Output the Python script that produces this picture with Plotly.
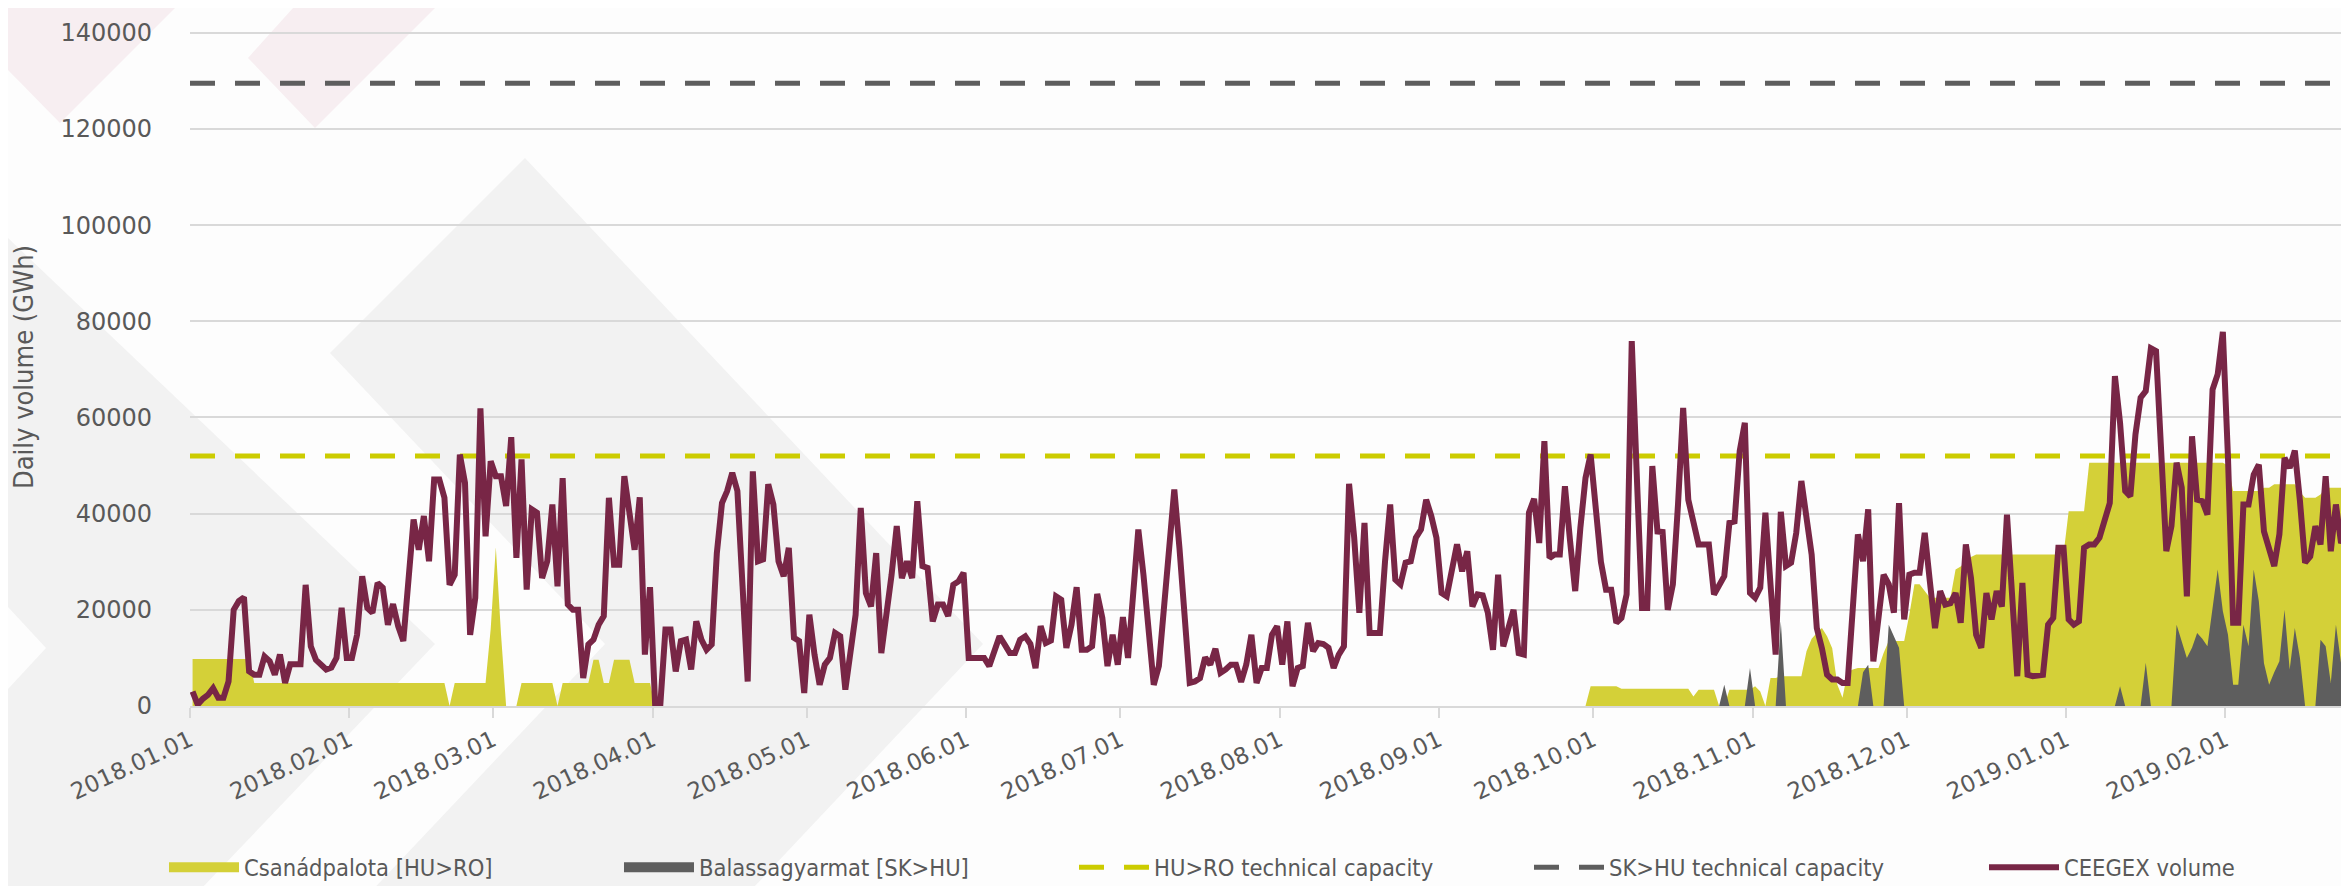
import pandas as pd
import plotly.graph_objects as go

# ---------------- data (daily values, GWh) ----------------
ceegex_2018_01 = [3000, 300, 1500, 2300, 3700, 1700, 1700, 5100, 20000, 21800, 22600, 7200, 6500, 6500, 10300, 9300,
                  6500, 10700, 4800, 8700, 8700, 8700, 25200, 12400, 9600, 8600, 7600, 8000, 10000, 20400, 10000]
ceegex_2018_02 = [10000, 14800, 27000, 20400, 19400, 25600, 24600, 16900, 21200, 16600, 13500, 28000, 38800, 32500,
                  39500, 30100, 47100, 47100, 43300, 25200, 27300, 52300, 46400, 14800, 22500, 61900, 35300, 50900]
ceegex_2018_03 = [47800, 47800, 41600, 55900, 30800, 51300, 24200, 40900, 40200, 26600, 30100, 41900, 24900, 47400,
                  21100, 20000, 20000, 5800, 12800, 13800, 16900, 18700, 43300, 29400, 29400, 47800, 39800, 32500,
                  43400, 10700, 24700]
ceegex_2018_04 = [200, 200, 15900, 15900, 7200, 13500, 13800, 7600, 17600, 13800, 11700, 12800, 31800, 42200, 44700,
                  48500, 44700, 25000, 5100, 48800, 30100, 30500, 46100, 41900, 30100, 27000, 32900, 14200, 13500, 2700]
ceegex_2018_05 = [19000, 10700, 4400, 8600, 10000, 15200, 14500, 3400, 10700, 19000, 41200, 23500, 20700, 31800, 11000,
                  18300, 27300, 37400, 26600, 30100, 26600, 42600, 29100, 28700, 17600, 21100, 21100, 18700, 25200,
                  25900, 27700]
ceegex_2018_06 = [10000, 10000, 10000, 10000, 8300, 11500, 14500, 12800, 11000, 11000, 13800, 14500, 12900, 7900, 16600,
                  13100, 13600, 22800, 22100, 12100, 16900, 24700, 11700, 11700, 12400, 23300, 18300, 8300, 14800, 8600]
ceegex_2018_07 = [18500, 10000, 23000, 36700, 27300, 16000, 4400, 8300, 21100, 33000, 45000, 32900, 20000, 4800, 5100,
                  5800, 10100, 8600, 11900, 6900, 7600, 8600, 8600, 5000, 8600, 14800, 4800, 7900, 7900, 14800, 16600]
ceegex_2018_08 = [8600, 17600, 4100, 7900, 8300, 17300, 11400, 13100, 12900, 12100, 7900, 10700, 12400, 46200, 35000,
                  19400, 38100, 15200, 15200, 15200, 30100, 41900, 26300, 25300, 29800, 30100, 35000, 36700, 42900,
                  39500, 35000]
ceegex_2018_09 = [23500, 22800, 28700, 33600, 28000, 32200, 20700, 23200, 23000, 19400, 11700, 27300, 12400, 16200,
                  20000, 11000, 10700, 40200, 43100, 33900, 55100, 30800, 31500, 31500, 45700, 34300, 23900, 37000,
                  47400, 52300]
ceegex_2018_10 = [40500, 30000, 24200, 24200, 17300, 18300, 23200, 75900, 47400, 20400, 20400, 49900, 36300, 36200,
                  20000, 25300, 41900, 62000, 42900, 38400, 33600, 33600, 33600, 23200, 25300, 27000, 38100, 38400,
                  53000, 58900, 23500]
ceegex_2018_11 = [22500, 24600, 40200, 25200, 10700, 40400, 29100, 29800, 36000, 46800, 40000, 31500, 16200, 12000,
                  6500, 5500, 5500, 4800, 4800, 20000, 35700, 30100, 40900, 9300, 18000, 27300, 25300, 19400, 42200,
                  18000]
ceegex_2018_12 = [27300, 27700, 27700, 36000, 25900, 16200, 23900, 21100, 21400, 23500, 17300, 33600, 26600, 14800,
                  12100, 23500, 18000, 23900, 20700, 39800, 23000, 6200, 25600, 6500, 6200, 6500, 6500, 16900, 18300,
                  32900, 32900]
ceegex_2019_01 = [18000, 16900, 17600, 32900, 33600, 33600, 35000, 38400, 42200, 68600, 58900, 44700, 43600, 56500,
                  64100, 65500, 74400, 73800, 54400, 32200, 37400, 50600, 45400, 22800, 56100, 42900, 42600, 39800,
                  65800, 69000, 77800]
ceegex_2019_02 = [51600, 17300, 17300, 41900, 41900, 48100, 50200, 36300, 32900, 29100, 35700, 51600, 49500, 53100,
                  42600, 29800, 31100, 37400, 33600, 47800, 32200, 41900, 33900, 36000, 45000, 52000]

csanad_2018_01 = [9800, 9800, 9800, 9800, 9800, 9800, 9800, 9800, 9800, 9800, 9800, 9800, 4800, 4800, 4800, 4800,
                  4800, 4800, 4800, 4800, 4800, 4800, 4800, 4800, 4800, 4800, 4800, 4800, 4800, 4800, 4800]
csanad_2018_02 = [4800, 4800, 4800, 4800, 4800, 4800, 4800, 4800, 4800, 4800, 4800, 4800, 4800, 4800, 4800, 4800,
                  4800, 4800, 4800, 0, 4800, 4800, 4800, 4800, 4800, 4800, 4800, 16000]
csanad_2018_03 = [33000, 15000, 0, 0, 0, 4800, 4800, 4800, 4800, 4800, 4800, 4800, 0, 4800, 4800, 4800, 4800, 4800,
                  4800, 9600, 9600, 4800, 4800, 9600, 9600, 9600, 9600, 4800, 4800, 4800, 4800]
csanad_2018_04 = [0, 0, 0, 0, 0, 0, 0, 0, 0, 0, 0, 0, 0, 0, 0, 0, 0, 0, 0, 0, 0, 0, 0, 0, 0, 0, 0, 0, 0, 0]
csanad_2018_05 = [0, 0, 0, 0, 0, 0, 0, 0, 0, 0, 0, 0, 0, 0, 0, 0, 0, 0, 0, 0, 0, 0, 0, 0, 0, 0, 0, 0, 0, 0, 0]
csanad_2018_06 = [0, 0, 0, 0, 0, 0, 0, 0, 0, 0, 0, 0, 0, 0, 0, 0, 0, 0, 0, 0, 0, 0, 0, 0, 0, 0, 0, 0, 0, 0]
csanad_2018_07 = [0, 0, 0, 0, 0, 0, 0, 0, 0, 0, 0, 0, 0, 0, 0, 0, 0, 0, 0, 0, 0, 0, 0, 0, 0, 0, 0, 0, 0, 0, 0]
csanad_2018_08 = [0, 0, 0, 0, 0, 0, 0, 0, 0, 0, 0, 0, 0, 0, 0, 0, 0, 0, 0, 0, 0, 0, 0, 0, 0, 0, 0, 0, 0, 0, 0]
csanad_2018_09 = [0, 0, 0, 0, 0, 0, 0, 0, 0, 0, 0, 0, 0, 0, 0, 0, 0, 0, 0, 0, 0, 0, 0, 0, 0, 0, 0, 0, 0, 4100]
csanad_2018_10 = [4100, 4100, 4100, 4100, 4100, 3600, 3600, 3600, 3600, 3600, 3600, 3600, 3600, 3600, 3600, 3600,
                  3600, 3600, 3600, 2000, 3400, 3400, 3400, 3400, 0, 0, 3400, 3400, 3400, 3400, 3400]
csanad_2018_11 = [4100, 3000, 0, 5800, 5800, 6200, 6200, 6200, 6200, 6200, 11400, 14000, 15200, 16200, 14500, 12000,
                  4400, 1700, 7000, 7600, 7900, 7900, 7900, 7900, 7900, 11000, 13500, 13500, 13500, 13500]
csanad_2018_12 = [19000, 25300, 25300, 24000, 22500, 22500, 22500, 22500, 22500, 28400, 29000, 30000, 31000, 31500,
                  31500, 31500, 31500, 31500, 31500, 31500, 31500, 31500, 31500, 31500, 31500, 31500, 31500, 31500,
                  31500, 31500, 31500]
csanad_2019_01 = [40500, 40500, 40500, 40500, 50600, 50600, 50600, 50600, 50600, 50600, 50600, 50600, 50600, 50600,
                  50600, 50600, 50600, 50600, 50600, 50600, 50600, 50600, 50600, 50600, 50600, 50600, 50600, 50600,
                  50600, 50600, 50600]
csanad_2019_02 = [50000, 44700, 44700, 44700, 44700, 44700, 44700, 45400, 45400, 46100, 46100, 46100, 46100, 46100,
                  44500, 43300, 43300, 43300, 44000, 45400, 45400, 45400, 45400, 45400, 51600, 52000]

# Balassagyarmat flows, from 2018-10-01 (no flow before)
balassa_2018_10 = [0, 0, 0, 0, 0, 0, 0, 0, 0, 0, 0, 0, 0, 0, 0, 0, 0, 0, 0, 0, 0, 0, 0, 0, 0, 4400, 0, 0, 0, 0, 7900]
balassa_2018_11 = [0, 0, 0, 0, 0, 17600, 0, 0, 0, 0, 0, 0, 0, 0, 0, 0, 0, 0, 0, 0, 0, 7000, 8600, 0, 0, 0, 16900,
                   14500, 12100, 0]
balassa_2018_12 = [0, 0, 0, 0, 0, 0, 0, 0, 0, 0, 0, 0, 0, 0, 0, 0, 0, 0, 0, 0, 0, 0, 0, 0, 0, 0, 0, 0, 0, 0, 0]
balassa_2019_01 = [0, 0, 0, 0, 0, 0, 0, 0, 0, 0, 4100, 0, 0, 0, 0, 9000, 0, 0, 0, 0, 0, 16900, 13500, 10000, 12100,
                   15200, 14000, 12400, 20400, 28400, 19700]
balassa_2019_02 = [14800, 4400, 4400, 16900, 12400, 28400, 21800, 8900, 4400, 7000, 9300, 20000, 7600, 16200, 10000,
                   0, 0, 0, 13800, 12400, 4800, 16900, 8900, 8900, 8900, 20400]

hu_ro_capacity = [52000, 52000]
sk_hu_capacity = [129500, 129500]

tick_dates = ["2018-01-01", "2018-02-01", "2018-03-01", "2018-04-01", "2018-05-01", "2018-06-01", "2018-07-01",
              "2018-08-01", "2018-09-01", "2018-10-01", "2018-11-01", "2018-12-01", "2019-01-01", "2019-02-01"]
tick_labels = ["2018.01.01", "2018.02.01", "2018.03.01", "2018.04.01", "2018.05.01", "2018.06.01", "2018.07.01",
               "2018.08.01", "2018.09.01", "2018.10.01", "2018.11.01", "2018.12.01", "2019.01.01", "2019.02.01"]
y_ticks = [0, 20000, 40000, 60000, 80000, 100000, 120000, 140000]

# ---------------- assemble ----------------
ceegex = (ceegex_2018_01 + ceegex_2018_02 + ceegex_2018_03 + ceegex_2018_04 + ceegex_2018_05 + ceegex_2018_06 +
          ceegex_2018_07 + ceegex_2018_08 + ceegex_2018_09 + ceegex_2018_10 + ceegex_2018_11 + ceegex_2018_12 +
          ceegex_2019_01 + ceegex_2019_02)
csanad = (csanad_2018_01 + csanad_2018_02 + csanad_2018_03 + csanad_2018_04 + csanad_2018_05 + csanad_2018_06 +
          csanad_2018_07 + csanad_2018_08 + csanad_2018_09 + csanad_2018_10 + csanad_2018_11 + csanad_2018_12 +
          csanad_2019_01 + csanad_2019_02)
balassa = balassa_2018_10 + balassa_2018_11 + balassa_2018_12 + balassa_2019_01 + balassa_2019_02

ceegex_dates = pd.date_range("2018-01-01 12:00", periods=len(ceegex), freq="D")
csanad_dates = pd.date_range("2018-01-01 12:00", periods=len(csanad), freq="D")
balassa_dates = pd.date_range("2018-10-01 12:00", periods=len(balassa), freq="D")

X_START = "2018-01-01 00:00"
X_END = "2019-02-26 14:24"
cap_x = [X_START, X_END]

YELLOW_FILL = "#d4d038"
YELLOW_DASH = "#cccc00"
DARK_GRAY = "#5e5e5e"
MAROON = "#782646"
TEXT = "#595959"
GRID = "#d9d9d9"
BG = "#fdfdfd"
DECOR_GRAY = "#f2f2f2"
DECOR_PINK = "#f7eef1"
NARROW = "Liberation Sans Narrow, DejaVu Sans Condensed, sans-serif"

W, H = 2349, 886
ML, MR, MT, MB = 182, 0, 20, 188
PW, PH = W - ML - MR, H - MT - MB


def px_path(points):
    """Decorative background polygon given in pixel coordinates -> paper-coordinate SVG path."""
    parts = []
    for i, (px, py) in enumerate(points):
        xp = (px - ML) / PW
        yp = (H - MB - py) / PH
        parts.append(("M" if i == 0 else "L") + f"{xp:.5f},{yp:.5f}")
    return " ".join(parts) + " Z"


decor = [
    (DECOR_GRAY, [(0, 230), (427, 636), (0, 1083)]),
    (BG, [(0, 599), (38, 640), (0, 681)]),
    (DECOR_GRAY, [(517, 150), (975, 636), (517, 1122), (322, 927), (597, 636), (322, 345)]),
    (DECOR_PINK, [(0, 0), (167, 0), (52, 115), (0, 62)]),
    (DECOR_PINK, [(285, 0), (427, 0), (307, 120), (240, 50)]),
]
shapes = [dict(type="path", xref="paper", yref="paper", path=px_path(pts), fillcolor=col,
               line=dict(width=0), layer="below") for col, pts in decor]

fig = go.Figure()
# areas (drawn first), legend handled by swatch traces below
fig.add_trace(go.Scatter(x=csanad_dates, y=csanad, name="Csanádpalota [HU>RO]", mode="lines", legendgroup="cs",
                         showlegend=False, line=dict(width=0, color=YELLOW_FILL), fill="tozeroy",
                         fillcolor=YELLOW_FILL))
fig.add_trace(go.Scatter(x=balassa_dates, y=balassa, name="Balassagyarmat [SK>HU]", mode="lines", legendgroup="bg",
                         showlegend=False, line=dict(width=0, color=DARK_GRAY), fill="tozeroy",
                         fillcolor=DARK_GRAY))
fig.add_trace(go.Scatter(x=[None], y=[None], name="Csanádpalota [HU>RO]", mode="lines", legendgroup="cs",
                         line=dict(color=YELLOW_FILL, width=18)))
fig.add_trace(go.Scatter(x=[None], y=[None], name="Balassagyarmat [SK>HU]", mode="lines", legendgroup="bg",
                         line=dict(color=DARK_GRAY, width=18)))
fig.add_trace(go.Scatter(x=cap_x, y=hu_ro_capacity, name="HU>RO technical capacity", mode="lines",
                         line=dict(color=YELLOW_DASH, width=5, dash="25px,20px")))
fig.add_trace(go.Scatter(x=cap_x, y=sk_hu_capacity, name="SK>HU technical capacity", mode="lines",
                         line=dict(color=DARK_GRAY, width=5, dash="25px,20px")))
fig.add_trace(go.Scatter(x=ceegex_dates, y=ceegex, name="CEEGEX volume", mode="lines",
                         line=dict(color=MAROON, width=6)))

fig.update_layout(
    width=W, height=H,
    margin=dict(l=ML, r=MR, t=MT, b=MB, autoexpand=False),
    paper_bgcolor=BG,
    plot_bgcolor="rgba(0,0,0,0)",
    font=dict(family="DejaVu Sans", color=TEXT, size=24),
    showlegend=True,
    shapes=shapes,
    legend=dict(orientation="h", x=-0.012, xanchor="left", y=-0.238, yanchor="middle",
                font=dict(family=NARROW, size=23.5, color=TEXT),
                itemwidth=70, entrywidth=370, bgcolor="rgba(0,0,0,0)", traceorder="normal"),
    xaxis=dict(type="date", range=[X_START, X_END], tickmode="array", tickvals=tick_dates, ticktext=tick_labels,
               tickangle=-25, ticks="outside", ticklen=10, tickwidth=2, tickcolor=GRID,
               showgrid=False, showline=True, linecolor=GRID, linewidth=2, zeroline=False,
               tickfont=dict(family="DejaVu Sans", size=23, color=TEXT)),
    yaxis=dict(range=[0, 141000], tickmode="array", tickvals=y_ticks, tickformat="d", showgrid=True,
               gridcolor=GRID, gridwidth=2, zeroline=False, showline=False, ticks="", ticklabelstandoff=37,
               tickfont=dict(family="DejaVu Sans", size=24, color=TEXT),
               title=dict(text="Daily volume (GWh)", standoff=48,
                          font=dict(family=NARROW, size=27, color=TEXT))),
)

fig.write_html("out.html")
